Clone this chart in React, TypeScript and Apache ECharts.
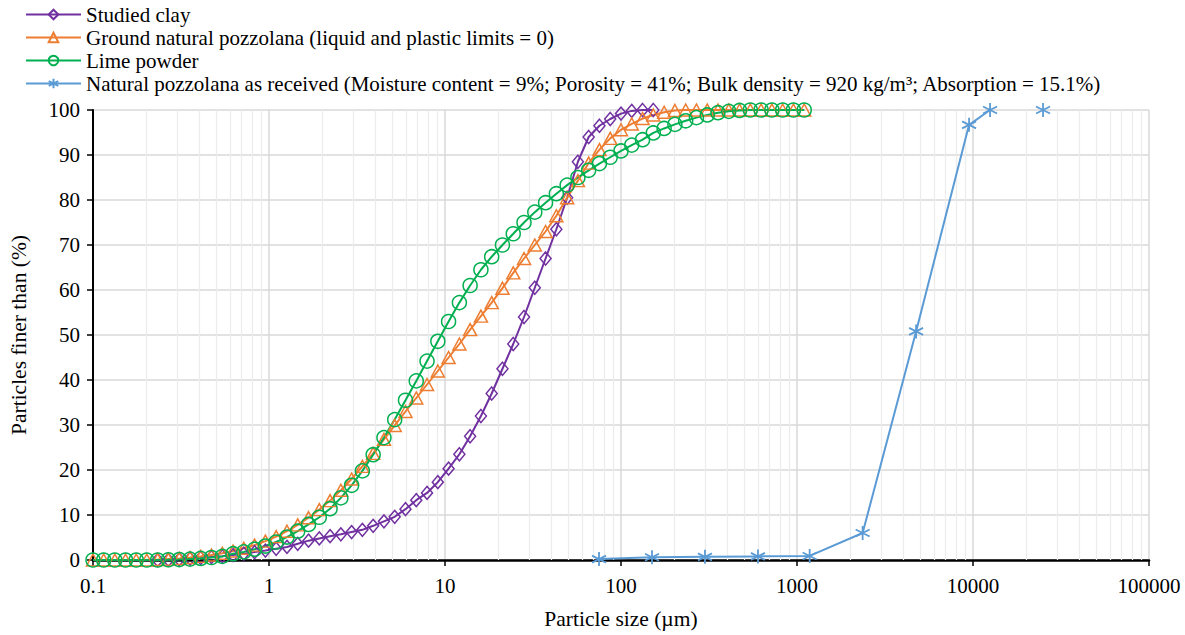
import React, { useEffect, useRef } from "react";
import * as echarts from "echarts";

// Particle sizes (µm) of the laser-diffraction grid
const sizes = [
  0.1, 0.115, 0.133, 0.153, 0.176, 0.202, 0.233, 0.268, 0.309, 0.356, 0.409, 0.471, 0.543, 0.625, 0.719,
  0.828, 0.954, 1.098, 1.265, 1.456, 1.677, 1.931, 2.223, 2.56, 2.947, 3.393, 3.907, 4.499, 5.179, 5.964,
  6.866, 7.906, 9.103, 10.48, 12.07, 13.89, 16.0, 18.42, 21.21, 24.42, 28.12, 32.37, 37.28, 42.92, 49.42,
  56.9, 65.51, 75.43, 86.85, 100, 115.1, 132.6, 152.6, 175.8, 202.4, 233.1, 268.3, 309, 355.6, 409.6,
  471.5, 542.9, 625.1, 719.8, 828.8, 954.3, 1099,
];

// Studied clay (% finer)
const clayValues: (number | null)[] = [
  null, null, null, null, null, null, 0, 0.05, 0.15, 0.3, 0.45, 0.65, 0.85, 1.1, 1.4,
  1.75, 2.1, 2.5, 2.9, 3.6, 4.3, 4.8, 5.3, 5.7, 6.2, 6.7, 7.6, 8.6, 9.6, 11.3,
  13.3, 14.9, 17.3, 20.3, 23.5, 27.5, 32, 37, 42.5, 48, 54, 60.5, 67, 73.5, 80.5,
  88.5, 94, 96.5, 98, 99.2, 99.8, 100, 100,
];

// Ground natural pozzolana (% finer)
const pozzolanaValues = [
  0, 0, 0, 0, 0, 0, 0.1, 0.2, 0.35, 0.55, 0.8, 1.1, 1.5, 2.0, 2.6,
  3.3, 4.2, 5.2, 6.4, 7.8, 9.4, 11.2, 13.2, 15.5, 18.0, 20.8, 23.7, 26.8, 29.9, 33,
  36, 39, 42, 45, 48, 51.2, 54.2, 57.2, 60.4, 63.8, 67, 70, 73, 76.5, 80.5,
  84.3, 88.2, 91.2, 93.7, 95.6, 96.9, 98.1, 98.9, 99.5, 99.9, 100, 100, 100, 100, 100,
  100, 100, 100, 100, 100, 100, 100,
];

// Lime powder (% finer)
const limeValues = [
  0, 0, 0, 0, 0, 0, 0, 0.05, 0.1, 0.2, 0.35, 0.55, 0.8, 1.4, 1.8,
  2.4, 3.1, 4.0, 5.1, 6.4, 7.9, 9.5, 11.4, 13.8, 16.6, 19.8, 23.4, 27.2, 31.2, 35.5,
  39.8, 44.2, 48.6, 53, 57.2, 61, 64.5, 67.4, 70, 72.5, 75, 77.3, 79.4, 81.4, 83.3,
  85, 86.6, 88.1, 89.5, 90.9, 92.2, 93.4, 94.9, 95.9, 96.8, 97.6, 98.3, 98.9, 99.4, 99.7,
  99.9, 100, 100, 100, 100, 100, 100,
];

// Natural pozzolana as received (sieve analysis); null = break in the line
const sieveSizes = [75, 150, 300, 600, 1180, 2360, 4750, 9500, 12500, 18000, 25000];
const sieveValues: (number | null)[] = [0.2, 0.6, 0.7, 0.8, 0.9, 6.0, 50.8, 96.7, 100, null, 100];

const seriesNames = [
  "Studied clay",
  "Ground natural pozzolana (liquid and plastic limits = 0)",
  "Lime powder",
  "Natural pozzolana as received (Moisture content = 9%; Porosity = 41%; Bulk density = 920 kg/m³; Absorption = 15.1%)",
];

const FONT = "Liberation Serif";

function pairs(xs: number[], ys: (number | null)[]) {
  const out: any[] = [];
  ys.forEach((y, i) => {
    if (i < xs.length) out.push([xs[i], y === null ? "-" : y]);
  });
  return out;
}

function pairsSkipLeading(xs: number[], ys: (number | null)[]) {
  const out: any[] = [];
  ys.forEach((y, i) => {
    if (y !== null) out.push([xs[i], y]);
  });
  return out;
}

// minor log gridline positions (2..9 within each decade)
const minorGrid: number[] = [];
for (let d = -1; d < 5; d++) {
  for (let m = 2; m <= 9; m++) minorGrid.push(m * Math.pow(10, d));
}

export default function App() {
  const ref = useRef<HTMLDivElement>(null);
  useEffect(() => {
    if (!ref.current) return;
    const chart = echarts.init(ref.current, null, { renderer: "svg" });
    const purple = "#7030A0";
    const orange = "#ED7D31";
    const green = "#00B050";
    const blue = "#5B9BD5";
    const star = "path://M0 -10 L0 10 M-8.66 -5 L8.66 5 M-8.66 5 L8.66 -5";
    const mk = (name: string, color: string, symbol: string, size: any, data: any[], extra: any = {}) => ({
      name,
      type: "line",
      data,
      symbol,
      symbolSize: size,
      showAllSymbol: true,
      lineStyle: { color, width: 2 },
      itemStyle: { color: "rgba(255,255,255,0)", borderColor: color, borderWidth: 1.5 },
      emphasis: { disabled: true },
      ...extra,
    });
    chart.setOption({
      animation: false,
      backgroundColor: "#fff",
      textStyle: { fontFamily: FONT },
      legend: {
        orient: "vertical",
        left: 25,
        top: 3,
        padding: 0,
        itemWidth: 55,
        itemHeight: 12,
        itemGap: 0,
        data: seriesNames,
        textStyle: { fontFamily: FONT, fontSize: 21, lineHeight: 23, color: "#000" },
        selectedMode: false,
      },
      grid: { left: 91, right: 36, top: 110, bottom: 74, containLabel: false },
      xAxis: {
        type: "log",
        logBase: 10,
        min: 0.1,
        max: 100000,
        name: "Particle size (µm)",
        nameLocation: "middle",
        nameGap: 48,
        nameTextStyle: { fontFamily: FONT, fontSize: 21.5, color: "#000" },
        axisLine: { lineStyle: { color: "#000", width: 2.5 } },
        axisTick: { show: true, length: 6, lineStyle: { color: "#000", width: 1.5 } },
        axisLabel: {
          fontFamily: FONT,
          fontSize: 21,
          color: "#000",
          margin: 15,
          formatter: (v: number) => (v < 1 ? v.toFixed(1) : String(Math.round(v))),
        },
        splitLine: { show: true, lineStyle: { color: "#d9d9d9", width: 1.5 } },
        minorTick: { show: false },
        minorSplitLine: { show: false },
      },
      yAxis: {
        type: "value",
        min: 0,
        max: 100,
        interval: 10,
        name: "Particles finer than (%)",
        nameLocation: "middle",
        nameGap: 63,
        nameTextStyle: { fontFamily: FONT, fontSize: 21.5, color: "#000" },
        axisLine: { show: true, lineStyle: { color: "#000", width: 2 } },
        axisTick: { show: true, length: 6, lineStyle: { color: "#000", width: 1.5 } },
        axisLabel: { fontFamily: FONT, fontSize: 21, color: "#000", margin: 13 },
        splitLine: { show: true, lineStyle: { color: "#d9d9d9", width: 1.5 } },
      },
      series: [
        mk(seriesNames[0], purple, "diamond", [11, 13], pairsSkipLeading(sizes, clayValues)),
        mk(seriesNames[1], orange, "triangle", [13, 12], pairs(sizes, pozzolanaValues)),
        mk(seriesNames[2], green, "circle", 14, pairs(sizes, limeValues)),
        mk(seriesNames[3], blue, star, 14, pairs(sieveSizes, sieveValues), {
          connectNulls: false,
          itemStyle: { color: "rgba(255,255,255,0)", borderColor: blue, borderWidth: 1.8 },
          markLine: {
            silent: true,
            z: 1,
            symbol: ["none", "none"],
            label: { show: false },
            lineStyle: { color: "#ececec", width: 1.2, type: "solid" },
            emphasis: { disabled: true },
            data: minorGrid.map((v) => ({ xAxis: v })),
          },
        }),
      ],
    });
    return () => chart.dispose();
  }, []);
  return <div ref={ref} style={{ position: "fixed", left: 0, top: 0, width: 1185, height: 635 }} />;
}
